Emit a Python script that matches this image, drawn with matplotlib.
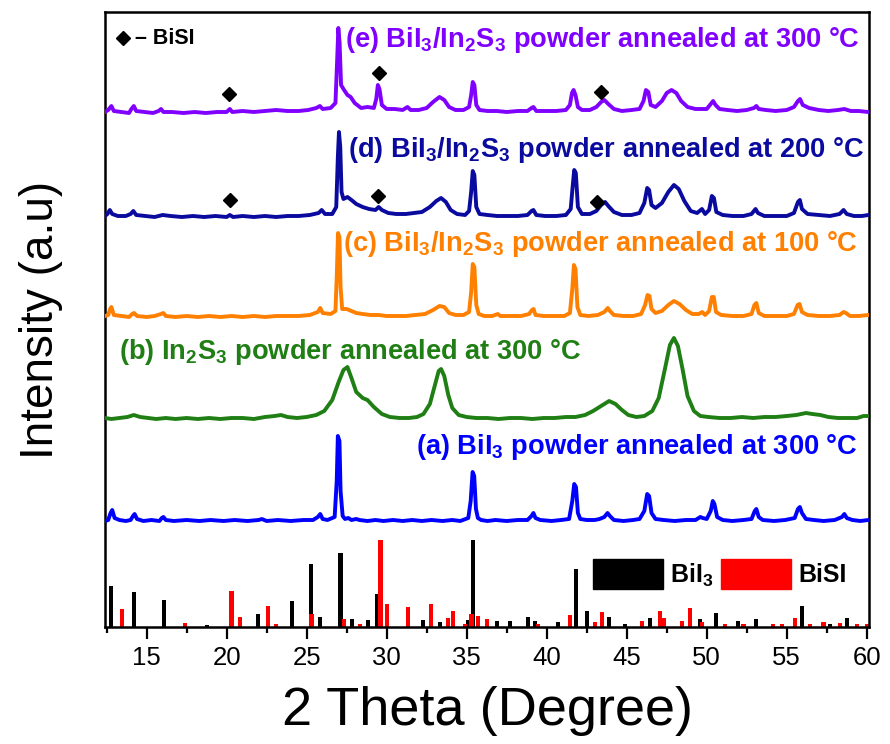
import matplotlib
matplotlib.use("Agg")
import matplotlib.pyplot as plt
from matplotlib.patches import Patch
from matplotlib.ticker import MultipleLocator

plt.rcParams['font.family'] = ['Liberation Sans', 'DejaVu Sans']
plt.rcParams['mathtext.fontset'] = 'custom'
plt.rcParams['mathtext.rm'] = 'Liberation Sans:bold'
plt.rcParams['mathtext.bf'] = 'Liberation Sans:bold'
plt.rcParams['mathtext.it'] = 'Liberation Sans:bold'
plt.rcParams['mathtext.default'] = 'bf'

# ---------------- data (2theta, intensity above each pattern's own baseline) -------------
pattern_a = [(12.4,0),(12.6,1),(12.75,8),(12.85,11),(13.0,3),(13.3,1),(13.7,0),(14.0,1),(14.15,5),(14.25,7),
             (14.4,2),(14.8,0),(15.3,1),(15.8,0),(15.95,3),(16.05,4),(16.2,1),(16.7,0),(17.5,1),(18.3,0),
             (19.0,1),(19.8,0),(20.5,1),(21.3,0),(22.0,1),(22.2,2),(22.5,0),(23.2,1),(24.0,0),(24.8,1),
             (25.4,1),(25.7,4),(25.85,7),(26.0,2),(26.3,1),(26.75,4),(26.88,40),(26.95,85),(27.05,80),
             (27.12,30),(27.25,5),(27.4,2),(27.6,3),(27.8,1),(28.1,2),(28.3,1),(28.8,0),(29.3,1),(29.8,0),
             (30.4,1),(31.0,0),(31.6,1),(32.2,0),(32.8,1),(33.5,0),(34.1,1),(34.6,0),(35.1,3),(35.25,20),
             (35.37,49),(35.47,45),(35.58,12),(35.7,3),(35.9,1),(36.3,0),(36.8,1),(37.5,0),(38.2,1),(38.8,1),
             (39.05,5),(39.17,8),(39.3,3),(39.6,1),(40.3,0),(40.9,1),(41.4,2),(41.6,20),(41.72,37),(41.83,34),
             (41.95,8),(42.1,2),(42.5,1),(43.0,1),(43.3,2),(43.6,4),(43.8,8),(43.95,5),(44.2,1),(44.8,0),
             (45.4,1),(45.8,2),(46.1,10),(46.28,27),(46.4,25),(46.55,8),(46.8,2),(47.3,1),(48.0,0),(48.7,1),
             (49.3,1),(49.6,4),(49.75,3),(50.0,2),(50.25,10),(50.38,20),(50.48,17),(50.65,4),(51.0,1),
             (51.6,0),(52.3,1),(52.8,2),(53.0,10),(53.1,12),(53.25,4),(53.5,1),(54.2,0),(54.9,1),(55.5,3),
             (55.7,12),(55.82,14),(55.95,8),(56.2,2),(56.7,1),(57.3,0),(58.0,1),(58.45,4),(58.6,7),
             (58.75,3),(59.1,1),(59.6,0),(60.1,1)]

pattern_b = [(12.4,2),(12.8,1),(13.3,2),(13.8,3),(14.2,5),(14.6,3),(15.1,2),(15.6,1),(16.2,2),(16.8,1),
             (17.5,2),(18.2,1),(18.9,2),(19.6,1),(20.3,2),(21.0,2),(21.7,1),(22.4,3),(23.0,4),(23.4,5),
             (23.8,3),(24.4,2),(25.0,3),(25.6,5),(26.1,9),(26.6,20),(27.0,38),(27.3,50),(27.55,53),
             (27.8,42),(28.1,28),(28.5,22),(28.8,20),(29.2,13),(29.7,6),(30.2,3),(30.8,2),(31.4,2),(31.9,3),
             (32.3,6),(32.7,16),(33.0,34),(33.25,49),(33.4,51),(33.6,44),(33.85,25),(34.1,12),(34.5,5),
             (35.0,3),(35.6,2),(36.3,2),(37.0,1),(37.7,2),(38.4,2),(39.1,1),(39.8,2),(40.5,2),(41.2,3),
             (41.8,3),(42.4,5),(42.9,9),(43.4,14),(43.9,19),(44.3,16),(44.7,10),(45.1,5),(45.6,3),(46.1,4),
             (46.6,9),(47.0,22),(47.4,52),(47.7,75),(47.95,82),(48.2,74),(48.5,50),(48.8,24),(49.2,9),
             (49.6,4),(50.1,3),(50.8,2),(51.5,2),(52.2,3),(52.9,2),(53.6,3),(54.3,3),(55.0,4),(55.6,5),
             (56.2,7),(56.6,6),(57.1,5),(57.6,3),(58.2,2),(58.8,2),(59.4,2),(59.8,4),(60.1,4)]

pattern_c = [(12.4,1),(12.6,2),(12.72,8),(12.8,10),(12.95,2),(13.4,1),(13.9,0),(14.1,3),(14.22,4),(14.4,1),
             (15.0,0),(15.5,1),(15.9,3),(16.05,4),(16.2,1),(16.8,0),(17.5,1),(18.2,0),(18.9,1),(19.6,0),
             (20.3,1),(21.0,0),(21.7,1),(22.4,0),(23.1,1),(23.8,1),(24.5,1),(25.2,2),(25.7,5),(25.85,9),
             (26.0,4),(26.5,3),(26.8,6),(26.88,40),(26.96,84),(27.05,80),(27.12,30),(27.22,8),(27.5,8),
             (27.8,6),(28.1,4),(28.5,3),(29.0,2),(29.5,2),(30.0,1),(30.6,1),(31.2,1),(31.8,2),(32.4,3),
             (32.9,7),(33.3,11),(33.6,10),(33.9,4),(34.3,2),(34.8,2),(35.15,5),(35.28,25),(35.38,53),
             (35.48,50),(35.6,12),(35.75,3),(36.1,1),(36.6,1),(36.95,3),(37.1,1),(37.7,1),(38.4,1),(38.9,3),
             (39.08,7),(39.18,8),(39.3,2),(39.8,1),(40.5,1),(41.1,1),(41.45,4),(41.6,28),(41.7,52),(41.8,48),
             (41.92,10),(42.1,2),(42.6,1),(43.2,2),(43.6,5),(43.82,9),(43.95,6),(44.2,2),(44.8,1),(45.4,1),
             (45.9,3),(46.15,12),(46.3,22),(46.42,21),(46.55,8),(46.8,4),(47.2,6),(47.6,12),(47.95,16),
             (48.3,13),(48.7,7),(49.1,3),(49.5,3),(49.72,5),(49.9,2),(50.15,6),(50.32,20),(50.44,20),
             (50.58,5),(50.9,2),(51.6,1),(52.3,1),(52.8,3),(52.98,12),(53.1,14),(53.25,4),(53.6,1),(54.3,1),
             (55.0,1),(55.45,3),(55.68,12),(55.8,13),(55.95,5),(56.3,2),(57.0,1),(57.7,1),(58.3,2),
             (58.55,5),(58.7,4),(58.95,1),(59.5,1),(60.1,2)]

pattern_d = [(12.4,1),(12.55,3),(12.7,7),(12.85,3),(13.2,1),(13.7,1),(14.0,3),(14.17,6),(14.35,2),(14.9,1),
             (15.5,0),(16.0,2),(16.5,1),(17.2,0),(17.9,1),(18.6,0),(19.3,1),(20.0,0),(20.2,2),(20.4,0),
             (21.0,1),(21.7,0),(22.4,1),(23.1,0),(23.8,1),(24.5,1),(25.2,2),(25.75,4),(25.94,7),(26.15,3),
             (26.6,3),(26.85,10),(26.95,60),(27.02,85),(27.1,70),(27.18,25),(27.3,18),(27.55,20),(27.8,17),
             (28.1,13),(28.5,10),(28.9,8),(29.3,7),(29.5,10),(29.7,7),(30.1,4),(30.6,3),(31.2,3),(31.7,4),
             (32.2,5),(32.7,10),(33.1,16),(33.4,19),(33.7,15),(34.0,7),(34.4,3),(34.9,2),(35.15,6),
             (35.28,25),(35.38,46),(35.48,42),(35.6,10),(35.8,3),(36.3,2),(36.9,1),(37.5,1),(38.2,1),
             (38.8,2),(39.05,6),(39.17,7),(39.35,2),(39.9,1),(40.6,1),(41.2,2),(41.5,8),(41.62,30),
             (41.72,47),(41.82,44),(41.95,10),(42.2,3),(42.7,3),(43.1,6),(43.4,12),(43.65,15),(43.85,11),
             (44.2,5),(44.7,2),(45.3,2),(45.8,4),(46.1,14),(46.28,29),(46.4,27),(46.55,12),(46.8,9),
             (47.2,14),(47.6,25),(47.95,32),(48.25,28),(48.6,16),(49.0,6),(49.4,4),(49.7,8),(49.9,3),
             (50.15,7),(50.32,21),(50.45,19),(50.6,5),(51.0,2),(51.6,1),(52.3,1),(52.8,3),(53.05,8),
             (53.2,4),(53.6,1),(54.3,1),(55.0,1),(55.45,4),(55.7,15),(55.82,17),(55.95,8),(56.3,3),
             (57.0,2),(57.7,1),(58.3,3),(58.55,7),(58.75,3),(59.2,1),(59.7,1),(60.1,2)]

pattern_e = [(12.4,1),(12.6,3),(12.8,7),(12.95,2),(13.4,1),(13.9,0),(14.05,4),(14.2,7),(14.35,2),(14.9,1),
             (15.4,0),(15.75,2),(15.9,4),(16.05,1),(16.6,1),(17.3,0),(18.0,1),(18.7,0),(19.4,1),(20.0,1),
             (20.2,4),(20.35,1),(21.0,2),(21.7,1),(22.4,2),(23.1,3),(23.8,2),(24.5,2),(25.1,3),(25.6,5),
             (25.83,7),(26.0,4),(26.5,5),(26.8,10),(26.9,50),(26.98,85),(27.06,70),(27.15,28),(27.3,24),
             (27.55,18),(27.75,16),(28.0,10),(28.4,5),(28.8,6),(29.2,5),(29.35,14),(29.45,28),(29.55,24),
             (29.7,8),(30.0,4),(30.5,4),(31.0,3),(31.3,6),(31.5,3),(32.0,3),(32.5,5),(32.9,11),(33.3,16),
             (33.6,13),(33.9,6),(34.3,3),(34.8,3),(35.15,6),(35.28,18),(35.38,31),(35.48,28),(35.6,8),
             (35.8,3),(36.3,2),(36.9,2),(37.5,1),(38.2,2),(38.8,2),(39.05,5),(39.17,6),(39.35,2),(39.9,2),
             (40.6,2),(41.2,3),(41.45,8),(41.58,20),(41.68,23),(41.8,18),(41.95,6),(42.2,3),(42.7,3),
             (43.1,6),(43.4,11),(43.6,13),(43.85,9),(44.2,4),(44.7,2),(45.3,3),(45.8,4),(46.05,12),
             (46.2,23),(46.35,21),(46.5,8),(46.8,6),(47.2,12),(47.5,20),(47.8,23),(48.1,20),(48.4,12),
             (48.8,6),(49.3,4),(49.7,4),(50.0,4),(50.25,9),(50.4,12),(50.55,8),(50.8,4),(51.3,3),(51.9,2),
             (52.5,3),(52.95,5),(53.1,7),(53.25,4),(53.7,3),(54.3,2),(55.0,3),(55.45,6),(55.7,12),
             (55.83,14),(56.0,8),(56.4,5),(57.0,3),(57.6,2),(58.2,3),(58.6,4),(59.0,2),(59.5,2),(60.1,1)]

# reference sticks
bii3_pos = [12.77,14.2,16.08,18.75,21.98,24.1,25.25,25.83,27.12,27.85,28.85,29.38,32.25,33.33,35.1,35.41,
            36.87,37.7,38.85,39.27,40.73,41.83,42.54,43.9,44.9,46.46,49.58,50.6,51.97,53.1,55.94,57.7,58.75]
bii3_h = [41,35,27,2,13,26,63,10,74,8,7,33,7,5,7,87,6,6,10,6,5,58,16,10,3,9,8,14,6,8,21,3,9]
bisi_pos = [13.44,17.4,20.3,20.83,22.6,23.08,25.3,27.33,28.33,29.62,30.0,31.35,32.77,33.85,34.12,34.9,35.3,
            35.72,36.25,39.48,41.45,43.02,43.44,45.94,47.08,47.3,48.44,48.96,49.7,51.14,52.3,54.16,54.7,
            55.52,56.46,57.3,58.33,59.4,60.0]
bisi_h = [18,4,36,10,21,3,13,8,3,87,23,20,23,9,16,3,13,11,8,3,12,5,15,6,16,9,6,19,5,3,3,3,3,9,3,5,4,3,3]

labels = ["(a) BiI$_3$ powder annealed at 300 °C",
          "(b) In$_2$S$_3$ powder annealed at 300 °C",
          "(c) BiI$_3$/In$_2$S$_3$ powder annealed at 100 °C",
          "(d) BiI$_3$/In$_2$S$_3$ powder annealed at 200 °C",
          "(e) BiI$_3$/In$_2$S$_3$ powder annealed at 300 °C"]
patterns = [pattern_a, pattern_b, pattern_c, pattern_d, pattern_e]
offsets = [106, 207, 310, 410, 514]
colors = ['#0000FF', '#1F7F14', '#FF8000', '#0A0A9E', '#8000FF']
label_xy = [(31.85, 180), (13.3, 275), (27.3, 383), (27.6, 477), (27.4, 587)]

# BiSI marks (2theta, height above baseline of the marked pattern)
bisi_mark_e = [(20.15, 19), (29.5, 40), (43.4, 21)]
bisi_mark_d = [(20.2, 17), (29.46, 21), (43.15, 15)]

# ---------------- figure -------------
fig = plt.figure(figsize=(8.9, 7.44), dpi=100)
ax = fig.add_axes([105/890, 1-627/744, 764/890, 615/744])

for pat, off, col in zip(patterns, offsets, colors):
    xs = [p[0] for p in pat]
    ys = [p[1] + off for p in pat]
    ax.plot(xs, ys, color=col, lw=2.8, solid_joinstyle='round', zorder=3)

ax.bar(bii3_pos, bii3_h, width=0.26, color='black', zorder=2)
ax.bar(bisi_pos, bisi_h, width=0.26, color='#FF0000', zorder=2)

for lab, (lx, ly), col in zip(labels, label_xy, colors):
    ax.text(lx, ly, lab, color=col, fontsize=19.6, fontweight='bold', ha='left', va='center', zorder=4)

for marks, off in [(bisi_mark_e, offsets[4]), (bisi_mark_d, offsets[3])]:
    ax.plot([m[0] for m in marks], [m[1] + off for m in marks], 'D', color='black', ms=7, zorder=5)

ax.plot([13.53], [589], 'D', color='black', ms=7)
ax.text(14.3, 589, "– BiSI", fontsize=15.5, fontweight='bold', ha='left', va='center')

handles = [Patch(facecolor='black', edgecolor='black'), Patch(facecolor='#FF0000', edgecolor='#FF0000')]
leg = ax.legend(handles, ['BiI$_3$', 'BiSI'], ncol=2, frameon=False,
                loc='center', bbox_to_anchor=(0.805, 0.086),
                prop={'family': 'Liberation Sans', 'weight': 'bold', 'size': 18},
                handlelength=2.8, handleheight=1.5, handletextpad=0.3, columnspacing=0.3, borderpad=0)

ax.set_xlim(12.4, 60.14)
ax.set_ylim(0, 615)
ax.set_yticks([])
ax.xaxis.set_major_locator(MultipleLocator(5))
ax.xaxis.set_minor_locator(MultipleLocator(2.5))
ax.tick_params(axis='x', which='major', direction='out', length=8.5, width=1.6, labelsize=18.5, pad=5)
ax.tick_params(axis='x', which='minor', direction='out', length=4, width=1.6)
for s in ax.spines.values():
    s.set_linewidth(1.8)

ax.set_xlabel("2 Theta (Degree)", fontsize=39, labelpad=12)
ax.set_ylabel("Intensity (a.u)", fontsize=33, labelpad=30)

fig.savefig("out.png", dpi=100)
